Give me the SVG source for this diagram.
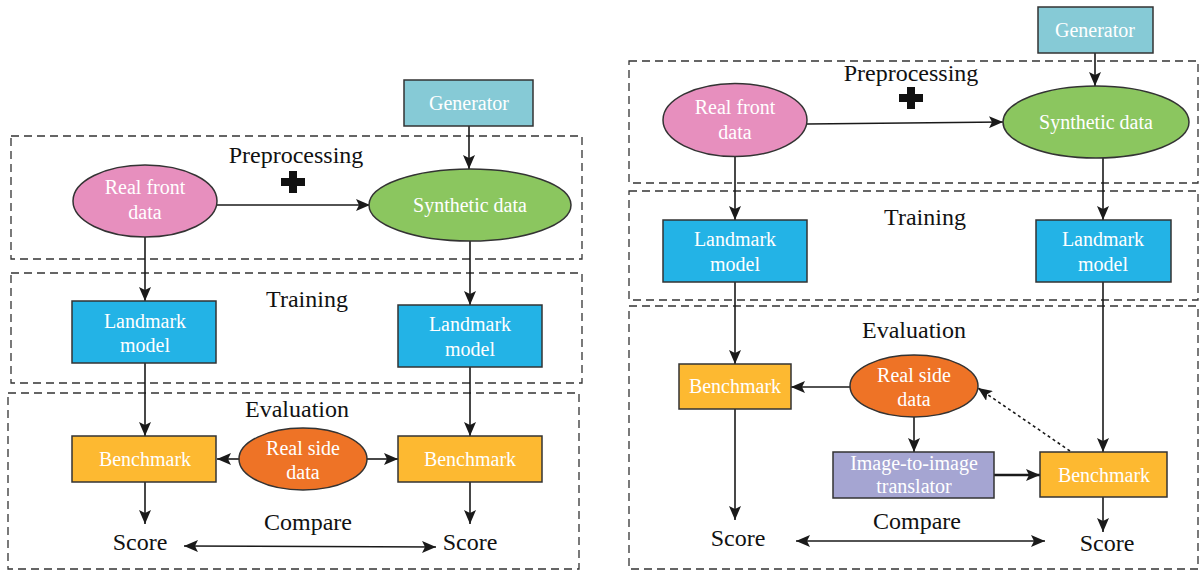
<svg xmlns="http://www.w3.org/2000/svg" width="1200" height="572" viewBox="0 0 1200 572">
<defs>
<marker id="ah" viewBox="0 0 14 12" refX="14" refY="6" markerWidth="14" markerHeight="12" markerUnits="userSpaceOnUse" orient="auto-start-reverse">
<path d="M0,0 L14,6 L0,12 L3,6 Z" fill="#1a1a1a"/>
</marker>
<style>
.zone{fill:none;stroke:#333;stroke-width:1.3;stroke-dasharray:8,5}
.node{stroke:#333;stroke-width:1.5}
text{font-family:'Liberation Serif','Times New Roman',Times,'DejaVu Serif',serif}
.nt{font-size:20px;fill:#fff;text-anchor:middle}
.lbl{font-size:24px;fill:#111;text-anchor:middle}
.c{fill:none;stroke:#1a1a1a;stroke-width:1.6;marker-end:url(#ah)}
.gen{fill:#86CAD6}.pink{fill:#E78FBE}.green{fill:#8BC65F}.blue{fill:#23B3E6}.orange{fill:#FDB931}.red{fill:#EE7326}.purple{fill:#A5A5D2}
</style>
</defs>
<rect width="1200" height="572" fill="#fff"/>

<g id="zones-left">
<rect class="zone" x="11" y="136" width="571" height="123"/>
<rect class="zone" x="11" y="273" width="571" height="110"/>
<rect class="zone" x="8" y="393" width="571" height="176"/>
<text class="lbl" x="296" y="163">Preprocessing</text>
<text class="lbl" x="307" y="307">Training</text>
<text class="lbl" x="297" y="417">Evaluation</text>
<text class="lbl" x="308" y="530">Compare</text>
<path d="M289,171 h8 v7 h8 v8 h-8 v7 h-8 v-7 h-8 v-8 h8 Z" fill="#111"/>
</g>

<g id="zones-right">
<rect class="zone" x="629" y="61" width="569" height="122"/>
<rect class="zone" x="629" y="191" width="569" height="109"/>
<rect class="zone" x="629" y="306" width="569" height="263"/>
<text class="lbl" x="911" y="81">Preprocessing</text>
<text class="lbl" x="925" y="225">Training</text>
<text class="lbl" x="914" y="338">Evaluation</text>
<text class="lbl" x="917" y="529">Compare</text>
<path d="M907,87 h8 v7 h8 v8 h-8 v7 h-8 v-7 h-8 v-8 h8 Z" fill="#111"/>
</g>

<g id="connectors">
<line class="c" x1="469" y1="126" x2="469" y2="169"/>
<line class="c" x1="217" y1="205" x2="370" y2="205"/>
<line class="c" x1="145" y1="237" x2="145" y2="301"/>
<line class="c" x1="470" y1="241" x2="470" y2="305"/>
<line class="c" x1="145" y1="363" x2="145" y2="436"/>
<line class="c" x1="470" y1="367" x2="470" y2="436"/>
<line class="c" x1="240" y1="459" x2="217" y2="459"/>
<line class="c" x1="367" y1="459" x2="398" y2="459"/>
<line class="c" x1="145" y1="482" x2="145" y2="524"/>
<line class="c" x1="470" y1="482" x2="470" y2="524"/>
<line class="c" style="marker-start:url(#ah)" x1="184" y1="546" x2="436" y2="547"/>
<line class="c" x1="1095" y1="53" x2="1095" y2="86"/>
<line class="c" x1="807" y1="124" x2="1003" y2="122"/>
<line class="c" x1="735" y1="157" x2="735" y2="220"/>
<line class="c" x1="1103" y1="158" x2="1103" y2="220"/>
<line class="c" x1="735" y1="282" x2="735" y2="364"/>
<line class="c" x1="1103" y1="282" x2="1103" y2="452"/>
<line class="c" x1="850" y1="387" x2="791" y2="387"/>
<line class="c" x1="914" y1="417" x2="914" y2="452"/>
<line class="c" style="stroke-width:2.4" x1="994" y1="475" x2="1040" y2="475"/>
<line class="c" style="stroke-dasharray:3,3" x1="1070" y1="451" x2="978" y2="388"/>
<line class="c" x1="735" y1="409" x2="735" y2="520"/>
<line class="c" x1="1103" y1="497" x2="1103" y2="532"/>
<line class="c" style="marker-start:url(#ah)" x1="796" y1="541" x2="1045" y2="541"/>
</g>

<g id="L-generator"><rect class="node gen" x="404" y="80" width="129" height="46"/><text class="nt" x="469" y="110">Generator</text></g>
<g id="L-realfront"><ellipse class="node pink" cx="145" cy="201" rx="72" ry="36"/><text class="nt" x="145" y="194">Real front</text><text class="nt" x="145" y="219">data</text></g>
<g id="L-synthetic"><ellipse class="node green" cx="470" cy="205" rx="101" ry="36"/><text class="nt" x="470" y="212">Synthetic data</text></g>
<g id="L-landmark1"><rect class="node blue" x="72" y="301" width="144" height="62"/><text class="nt" x="145" y="328">Landmark</text><text class="nt" x="145" y="352">model</text></g>
<g id="L-landmark2"><rect class="node blue" x="398" y="305" width="144" height="62"/><text class="nt" x="470" y="331">Landmark</text><text class="nt" x="470" y="356">model</text></g>
<g id="L-bench1"><rect class="node orange" x="72" y="436" width="144" height="46"/><text class="nt" x="145" y="466">Benchmark</text></g>
<g id="L-bench2"><rect class="node orange" x="398" y="436" width="144" height="46"/><text class="nt" x="470" y="466">Benchmark</text></g>
<g id="L-realside"><ellipse class="node red" cx="303" cy="459" rx="64" ry="31"/><text class="nt" x="303" y="455">Real side</text><text class="nt" x="303" y="479">data</text></g>
<g id="L-score1"><text class="lbl" x="140" y="550">Score</text></g>
<g id="L-score2"><text class="lbl" x="470" y="550">Score</text></g>

<g id="R-generator"><rect class="node gen" x="1038" y="7" width="115" height="46"/><text class="nt" x="1095" y="37">Generator</text></g>
<g id="R-realfront"><ellipse class="node pink" cx="735" cy="120" rx="72" ry="36.5"/><text class="nt" x="735" y="114">Real front</text><text class="nt" x="735" y="139">data</text></g>
<g id="R-synthetic"><ellipse class="node green" cx="1096" cy="122" rx="93" ry="36"/><text class="nt" x="1096" y="129">Synthetic data</text></g>
<g id="R-landmark1"><rect class="node blue" x="663" y="220" width="144" height="62"/><text class="nt" x="735" y="246">Landmark</text><text class="nt" x="735" y="271">model</text></g>
<g id="R-landmark2"><rect class="node blue" x="1036" y="220" width="135" height="62"/><text class="nt" x="1103" y="246">Landmark</text><text class="nt" x="1103" y="271">model</text></g>
<g id="R-bench1"><rect class="node orange" x="679" y="364" width="112" height="45"/><text class="nt" x="735" y="393">Benchmark</text></g>
<g id="R-realside"><ellipse class="node red" cx="914" cy="386" rx="64" ry="31"/><text class="nt" x="914" y="382">Real side</text><text class="nt" x="914" y="406">data</text></g>
<g id="R-translator"><rect class="node purple" x="833" y="452" width="161" height="46"/><text class="nt" x="914" y="470">Image-to-image</text><text class="nt" x="914" y="493">translator</text></g>
<g id="R-bench2"><rect class="node orange" x="1040" y="452" width="127" height="45"/><text class="nt" x="1104" y="482">Benchmark</text></g>
<g id="R-score1"><text class="lbl" x="738" y="546">Score</text></g>
<g id="R-score2"><text class="lbl" x="1107" y="551">Score</text></g>
</svg>
